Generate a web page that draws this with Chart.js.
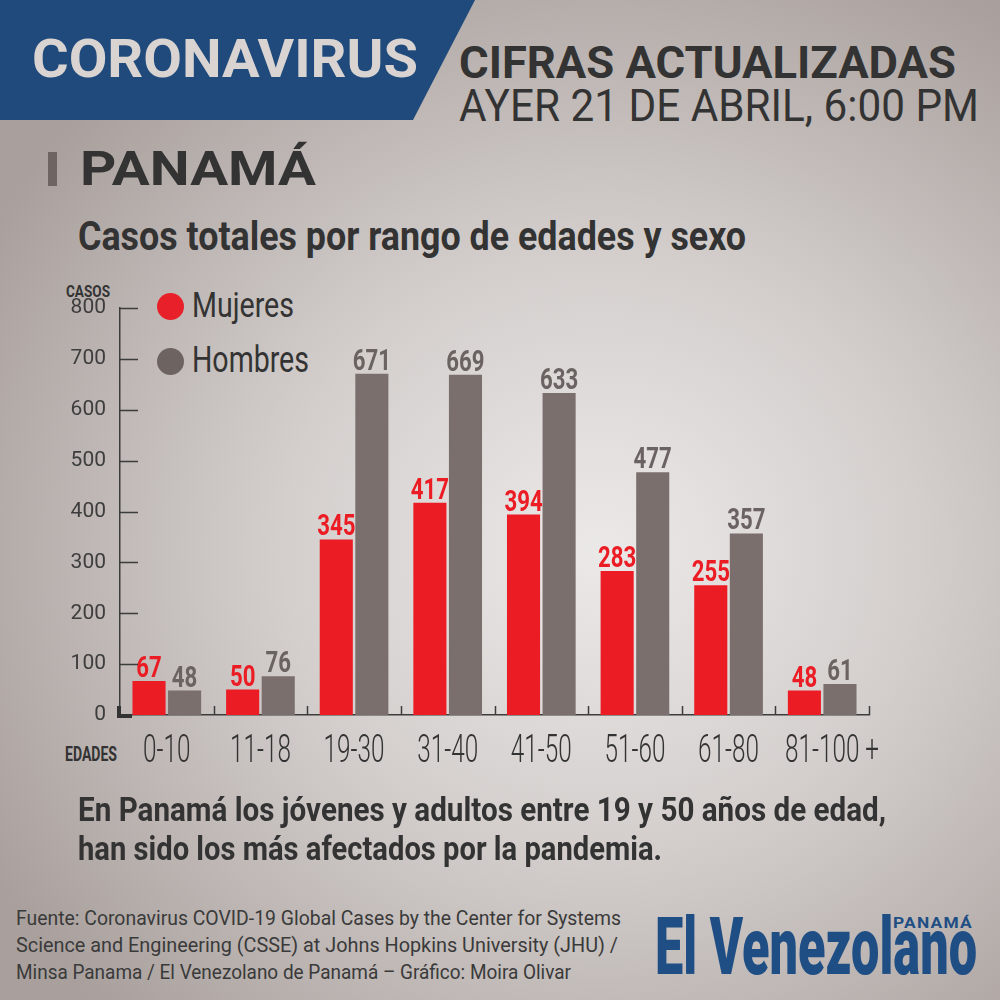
<!DOCTYPE html>
<html>
<head>
<meta charset="utf-8">
<script src="https://cdn.jsdelivr.net/npm/chart.js@4.4.1/dist/chart.umd.min.js"></script>
<style>
  html, body { margin: 0; padding: 0; }
  body {
    width: 1000px; height: 1000px; position: relative; overflow: hidden;
    font-family: Roboto, 'Noto Sans', sans-serif;
    background: radial-gradient(ellipse 70% 65% at 60% 55%, #ebe9e8 0%, #d4cfcd 45%, #a9a09d 100%);
  }
  .band {
    position: absolute; left: 0; top: 0; width: 480px; height: 120px;
    background: #1f4a7b;
    clip-path: polygon(0 0, 475px 0, 413px 120px, 0 120px);
  }
  .t {
    position: absolute; white-space: nowrap; line-height: 1;
    transform-origin: 0 50%; color: #333;
  }
  .b { font-weight: 700; }
  .mark { position: absolute; left: 48px; top: 152px; width: 9px; height: 34px; background: #6e6462; }
  .dot { position: absolute; width: 27px; height: 27px; border-radius: 50%; }
  #wrap { position: absolute; left: 40px; top: 270px; width: 860px; height: 520px; }
</style>
</head>
<body>
<div class="band"></div>
<div class="t b" data-w="386" style="left:32px; top:32px; font-size:54px; color:#d9d4d2;">CORONAVIRUS</div>
<div class="t b" data-w="497" style="left:459px; top:40px; font-size:45px;">CIFRAS ACTUALIZADAS</div>
<div class="t" data-w="520" style="left:459px; top:84px; font-size:44px;">AYER 21 DE ABRIL, 6:00 PM</div>

<div class="mark"></div>
<div class="t b" data-w="236" style="left:80px; top:145px; font-size:48px;">PANAMÁ</div>
<div class="t b" data-w="668" style="left:78px; top:216px; font-size:41px;">Casos totales por rango de edades y sexo</div>

<div class="t b" data-w="44" style="left:66px; top:284px; font-size:16px;">CASOS</div>
<div class="t b" data-w="52" style="left:65px; top:744px; font-size:21px;">EDADES</div>

<div class="dot" style="left:157px; top:293px; background:#e8202a;"></div>
<div class="t" data-w="102" style="left:192px; top:288px; font-size:35px;">Mujeres</div>
<div class="dot" style="left:157px; top:348px; background:#6d6462;"></div>
<div class="t" data-w="117" style="left:192px; top:342px; font-size:36px;">Hombres</div>

<div id="wrap"><canvas id="chart"></canvas></div>

<div class="t b" data-w="808" style="left:78px; top:792px; font-size:34px;">En Panamá los jóvenes y adultos entre 19 y 50 años de edad,</div>
<div class="t b" data-w="584" style="left:78px; top:831px; font-size:34px;">han sido los más afectados por la pandemia.</div>

<div class="t" data-w="605" style="left:16px; top:908px; font-size:21px; color:#3a3a3a;">Fuente: Coronavirus COVID-19 Global Cases by the Center for Systems</div>
<div class="t" data-w="602" style="left:16px; top:935px; font-size:21px; color:#3a3a3a;">Science and Engineering (CSSE) at Johns Hopkins University (JHU) /</div>
<div class="t" data-w="555" style="left:16px; top:962px; font-size:21px; color:#3a3a3a;">Minsa Panama / El Venezolano de Panamá – Gráfico: Moira Olivar</div>

<div class="t" data-w="322" style="left:655px; top:908px; font-size:79px; font-weight:900; color:#1f4e84;">El Venezolano</div>
<div class="t b" data-w="80" style="left:893px; top:916px; font-size:14px; letter-spacing:1px; color:#1f4e84;">PANAMÁ</div>

<script>
// fit header / footer texts to their width
document.querySelectorAll('.t').forEach(function(el) {
  var w = +el.dataset.w;
  var nat = el.getBoundingClientRect().width;
  el.style.transform = 'scaleX(' + (w / nat) + ')';
});

const categories = ['0-10', '11-18', '19-30', '31-40', '41-50', '51-60', '61-80', '81-100 +'];
const mujeres = [67, 50, 345, 417, 394, 283, 255, 48];
const hombres = [48, 76, 671, 669, 633, 477, 357, 61];
const yTicks = [0, 100, 200, 300, 400, 500, 600, 700, 800];

const RED = '#ec1c24';
const GRAY = '#7b6f6d';

// draws condensed text (no narrow font installed)
function narrowText(ctx, txt, x, y, sx) {
  ctx.save();
  ctx.translate(x, y);
  ctx.scale(sx, 1);
  ctx.fillText(txt, 0, 0);
  ctx.restore();
}

// value labels above bars
const valueLabels = {
  id: 'valueLabels',
  afterDatasetsDraw(chart) {
    const ctx = chart.ctx;
    ctx.save();
    ctx.font = 'bold 30px Roboto';
    ctx.textAlign = 'center';
    ctx.textBaseline = 'alphabetic';
    chart.data.datasets.forEach(function(ds, i) {
      ctx.fillStyle = i === 0 ? RED : '#6b6361';
      chart.getDatasetMeta(i).data.forEach(function(bar, j) {
        narrowText(ctx, String(ds.data[j]), bar.x, bar.y - 4, 0.74);
      });
    });
    ctx.restore();
  }
};

// category labels + short inner tick marks on both axes
const axisMarks = {
  id: 'axisMarks',
  afterDraw(chart) {
    const ctx = chart.ctx;
    const x = chart.scales.x, y = chart.scales.y;
    const area = chart.chartArea;
    ctx.save();
    ctx.fillStyle = '#333';
    ctx.font = '300 38px Roboto';
    ctx.textAlign = 'center';
    ctx.textBaseline = 'alphabetic';
    const sx = 0.64;
    x.getLabels().forEach(function(lab, i) {
      let px = x.getPixelForValue(i);
      // keep the "+" hanging to the right of the range
      if (lab.endsWith(' +')) px += ctx.measureText(' +').width * sx / 2;
      narrowText(ctx, lab, px, area.bottom + 47, sx);
    });

    ctx.strokeStyle = '#3c3c3c';
    ctx.lineWidth = 1.5;
    ctx.beginPath();
    y.ticks.forEach(function(t) {
      if (t.value === 0) return;
      const py = Math.round(y.getPixelForValue(t.value)) + 0.5;
      ctx.moveTo(area.left, py);
      ctx.lineTo(area.left + 18, py);
    });
    const half = (x.getPixelForValue(1) - x.getPixelForValue(0)) / 2;
    categories.forEach(function(c, i) {
      const px = Math.round(x.getPixelForValue(i) + half) + 0.5;
      ctx.moveTo(px, area.bottom);
      ctx.lineTo(px, area.bottom - 9);
    });
    ctx.stroke();
    // dark corner at the origin
    ctx.strokeStyle = '#333';
    ctx.lineWidth = 4;
    ctx.beginPath();
    ctx.moveTo(area.left - 1, area.bottom - 9);
    ctx.lineTo(area.left - 1, area.bottom + 1);
    ctx.lineTo(area.left + 12, area.bottom + 1);
    ctx.stroke();
    ctx.restore();
  }
};

new Chart(document.getElementById('chart'), {
  type: 'bar',
  data: {
    labels: categories,
    datasets: [
      { label: 'Mujeres', data: mujeres, backgroundColor: RED },
      { label: 'Hombres', data: hombres, backgroundColor: GRAY }
    ]
  },
  options: {
    responsive: true,
    maintainAspectRatio: false,
    animation: false,
    categoryPercentage: 0.76,
    barPercentage: 0.93,
    layout: { padding: { top: 38, right: 31, left: 0, bottom: 0 } },
    plugins: { legend: { display: false }, tooltip: { enabled: false } },
    scales: {
      x: {
        grid: { display: false, drawTicks: false },
        border: { display: true, color: '#3c3c3c', width: 1.5 },
        ticks: { display: false },
        afterFit: function(s) { s.height = 75; }
      },
      y: {
        min: 0,
        max: 800,
        afterBuildTicks: function(s) { s.ticks = yTicks.map(function(v) { return { value: v }; }); },
        grid: { display: false, drawTicks: false },
        border: { display: true, color: '#3c3c3c', width: 1.5 },
        ticks: { color: '#3d3d3d', font: { family: 'Roboto', size: 21, weight: 400 }, padding: 14 },
        afterFit: function(s) { s.width = 80; }
      }
    }
  },
  plugins: [valueLabels, axisMarks]
});
</script>
</body>
</html>
